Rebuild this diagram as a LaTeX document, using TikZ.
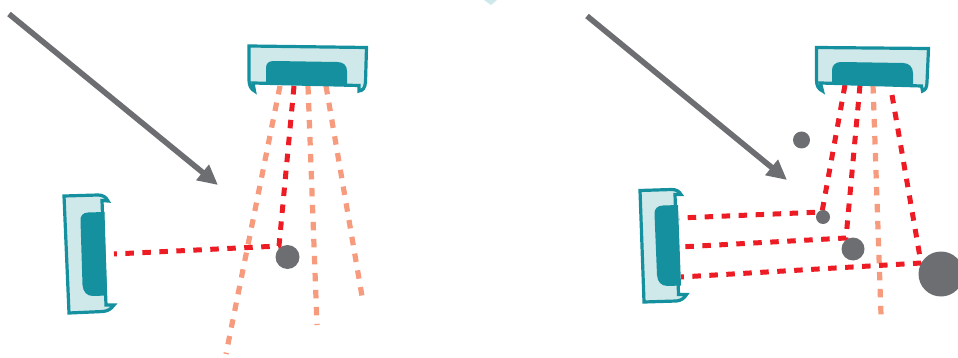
\documentclass[tikz,border=0pt]{standalone}
\usetikzlibrary{arrows.meta}
\definecolor{teal1}{HTML}{14909E}
\definecolor{teallight}{HTML}{CFE9EA}
\definecolor{graydark}{HTML}{6D6E71}
\definecolor{rayred}{HTML}{ED1C24}
\definecolor{rayorange}{HTML}{F79B7E}
\tikzset{
  housing/.style={draw=teal1,fill=teallight,line width=3.2pt,line join=miter},
  core/.style={fill=teal1,draw=none},
  redray/.style={draw=rayred,line width=5pt,dash pattern=on 8.5pt off 8.5pt},
  orangeray/.style={draw=rayorange,line width=5.2pt,dash pattern=on 8.5pt off 8.5pt},
  bigarrow/.style={draw=graydark,line width=5.6pt,-{Triangle[length=20pt,width=19pt]},shorten >=0pt},
  obstacle/.style={circle,fill=graydark,draw=none,inner sep=0pt}
}
\begin{document}
\begin{tikzpicture}[x=1pt,y=-1pt]
\useasboundingbox (0,0) rectangle (958,358);
% top fragment
\fill[teallight] (484,0) -- (497,0) -- (491,5) -- cycle;

% named end points
\coordinate (aS) at (9,14);   \coordinate (aE) at (218,185);
\coordinate (bS) at (587,16); \coordinate (bE) at (787,180);

\coordinate (t1a) at (280,86); \coordinate (t1b) at (226,354);
\coordinate (t2a) at (308,86); \coordinate (t2b) at (317,325);
\coordinate (t3a) at (326,86); \coordinate (t3b) at (363,302);
\coordinate (t4a) at (294,86); \coordinate (t4b) at (279,246); \coordinate (t4c) at (114,254);

\coordinate (r0a) at (873,85);  \coordinate (r0b) at (881,315);
\coordinate (r1a) at (845,85);  \coordinate (r1b) at (822,212); \coordinate (r1c) at (679,218);
\coordinate (r2a) at (860,85);  \coordinate (r2b) at (846,238); \coordinate (r2c) at (680,247);
\coordinate (r3a) at (892,95);  \coordinate (r3b) at (921,263); \coordinate (r3c) at (681,277);

% rays
\draw[orangeray] (t1a) -- (t1b);
\draw[orangeray] (t2a) -- (t2b);
\draw[orangeray] (t3a) -- (t3b);
\draw[redray] (t4a) -- (t4b) -- (t4c);
\draw[orangeray] (r0a) -- (r0b);
\draw[redray] (r1a) -- (r1b) -- (r1c);
\draw[redray] (r2a) -- (r2b) -- (r2c);
\draw[redray] (r3a) -- (r3b) -- (r3c);

% obstacles
\node[obstacle,minimum size=24pt] (o1) at (287.5,257) {};
\node[obstacle,minimum size=17pt] (o2) at (801.5,140) {};
\node[obstacle,minimum size=14pt] (o3) at (823,217) {};
\node[obstacle,minimum size=23pt] (o4) at (853,249) {};
\node[obstacle,minimum size=45pt] (o5) at (941,274) {};

% arrows
\draw[bigarrow] (aS) -- (aE);
\draw[bigarrow] (bS) -- (bE);

% left top sensor
\draw[housing] (249,46) -- (366.5,47.5) -- (365.5,82) .. controls (365,88) and (363,90.5) .. (359,91) -- (359,85.5) -- (253,83) -- (254.5,91) .. controls (251,89.5) and (249,85) .. (249,80) -- cycle;
\fill[core] (266,83) -- (266,68) .. controls (266,63) and (269,61) .. (274,61) -- (337,62) .. controls (343,62) and (347,65) .. (347,71) -- (347,85) -- cycle;

% right top sensor
\draw[housing] (816.5,47.5) -- (928.5,48.5) -- (927,82) .. controls (927,87) and (925.5,90) .. (922.5,91) -- (921.5,86) -- (820.5,83) -- (822.5,91) .. controls (818.5,89) and (816.5,86) .. (816.5,80) -- cycle;
\fill[core] (832,84) -- (832,70) .. controls (832,65) and (836,62) .. (841,62) -- (903,63) .. controls (909,63) and (913,67) .. (913,73) -- (913,85.5) -- cycle;

% left bottom sensor
\draw[housing] (64,196) -- (98,195) .. controls (103,195) and (106,197) .. (108,201) -- (102,200.5) -- (106,305) -- (114,305) .. controls (111,309) and (108,311) .. (103,311.5) -- (69,313) -- cycle;
\fill[core] (104.5,212) -- (88,212.5) .. controls (83,212.5) and (80,216) .. (80.5,221) -- (82.5,285) .. controls (83,292) and (87,296) .. (93,296) -- (107,295.5) -- cycle;

% right bottom sensor
\draw[housing] (640,190.5) -- (671.5,189.5) .. controls (676,189.5) and (679,191) .. (681,194.5) -- (675,194.5) -- (678.5,294.5) -- (686.5,294.5) .. controls (684,298.5) and (681,300.5) .. (676.5,301) -- (644,302) -- cycle;
\fill[core] (678,205) -- (663,205.5) .. controls (657.5,205.5) and (654,209) .. (654.5,214) -- (657,275) .. controls (657.5,282) and (661,286) .. (668,286) -- (681,285.5) -- cycle;
\end{tikzpicture}
\end{document}
